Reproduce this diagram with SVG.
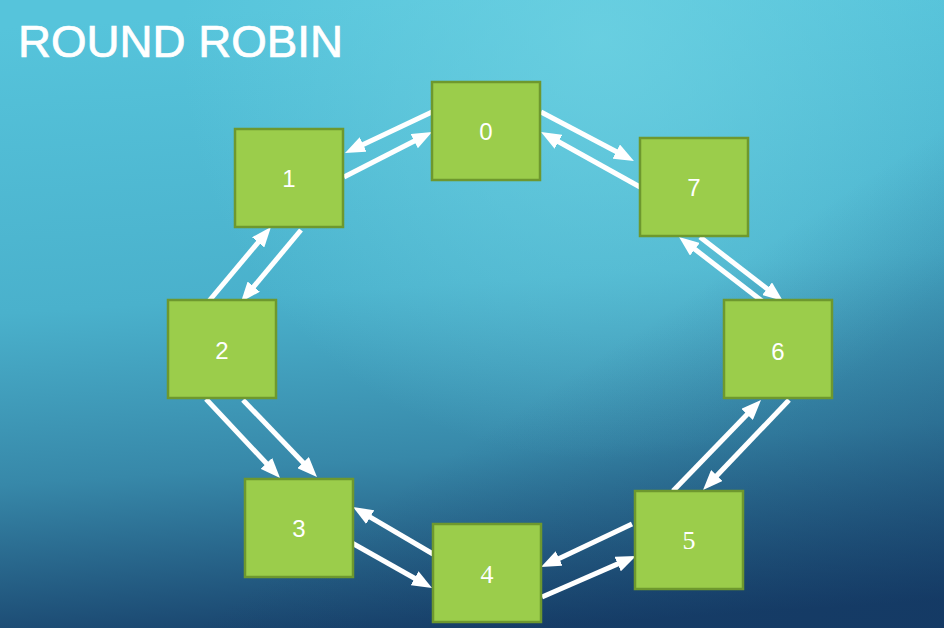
<svg xmlns="http://www.w3.org/2000/svg" width="944" height="628" viewBox="0 0 944 628">
  <defs>
    <linearGradient id="bg" x1="0.45" y1="0" x2="0.55" y2="1">
      <stop offset="0" stop-color="#56C4DB"/>
      <stop offset="0.45" stop-color="#4AB1CC"/>
      <stop offset="0.72" stop-color="#3788A9"/>
      <stop offset="1" stop-color="#173F69"/>
    </linearGradient>
    <radialGradient id="glow" cx="600" cy="40" r="420" gradientUnits="userSpaceOnUse">
      <stop offset="0" stop-color="#6FD3E3" stop-opacity="0.75"/>
      <stop offset="1" stop-color="#6FD3E3" stop-opacity="0"/>
    </radialGradient>
    <linearGradient id="corner" x1="0" y1="0" x2="1" y2="1">
      <stop offset="0.6" stop-color="#123560" stop-opacity="0"/>
      <stop offset="1" stop-color="#123560" stop-opacity="0.5"/>
    </linearGradient>
    <marker id="ah" markerUnits="userSpaceOnUse" markerWidth="20" markerHeight="16" refX="4" refY="8" orient="auto">
      <path d="M0,0 L20,8 L0,16 z" fill="#FFFFFF"/>
    </marker>
  </defs>
  <style>
    .box { fill: #9BCD4B; stroke: #6E982E; stroke-width: 2.5; }
    .lbl { fill: #FFFFFF; font-family: "Liberation Sans", Arial, sans-serif; font-size: 24px; text-anchor: middle; }
    .serif { font-family: "Liberation Serif", "Times New Roman", serif; font-size: 26px; }
    .arr { stroke: #FFFFFF; stroke-width: 5; fill: none; marker-end: url(#ah); }
    .title { fill: #FFFFFF; stroke: #FFFFFF; stroke-width: 0.7; font-family: "Liberation Sans", Arial, sans-serif; font-size: 44px; }
  </style>
  <rect x="0" y="0" width="944" height="628" fill="url(#bg)"/>
  <rect x="0" y="0" width="944" height="628" fill="url(#glow)"/>
  <rect x="0" y="0" width="944" height="628" fill="url(#corner)"/>

  <text class="title" x="18" y="57" textLength="325" lengthAdjust="spacingAndGlyphs">ROUND ROBIN</text>

  <g id="connectors">
    <line class="arr" x1="432" y1="112" x2="359.5" y2="146.2"/>
    <line class="arr" x1="344" y1="177" x2="417.8" y2="139.3"/>
    <line class="arr" x1="541" y1="112" x2="619.8" y2="153.5"/>
    <line class="arr" x1="640" y1="187" x2="555" y2="139.8"/>
    <line class="arr" x1="301" y1="230" x2="251.2" y2="289.7"/>
    <line class="arr" x1="209" y1="301" x2="260.7" y2="239.3"/>
    <line class="arr" x1="206" y1="399" x2="269.1" y2="466.3"/>
    <line class="arr" x1="243" y1="400" x2="305.9" y2="465.5"/>
    <line class="arr" x1="433" y1="554" x2="366.8" y2="515.1"/>
    <line class="arr" x1="352" y1="543" x2="418.1" y2="580.2"/>
    <line class="arr" x1="632" y1="524" x2="555.5" y2="560.2"/>
    <line class="arr" x1="542" y1="597" x2="621.3" y2="562.4"/>
    <line class="arr" x1="762" y1="301" x2="691.7" y2="246.8"/>
    <line class="arr" x1="700" y1="237" x2="770.3" y2="291.2"/>
    <line class="arr" x1="673" y1="491" x2="749.9" y2="411.5"/>
    <line class="arr" x1="789" y1="400" x2="714.1" y2="478.4"/>
  </g>

  <g id="node0"><rect class="box" x="432" y="82" width="108" height="98"/><text class="lbl" x="486" y="140">0</text></g>
  <g id="node1"><rect class="box" x="235" y="129" width="108" height="98"/><text class="lbl" x="289" y="187">1</text></g>
  <g id="node7"><rect class="box" x="640" y="138" width="108" height="98"/><text class="lbl" x="694" y="196">7</text></g>
  <g id="node2"><rect class="box" x="168" y="300" width="108" height="98"/><text class="lbl" x="222" y="359">2</text></g>
  <g id="node6"><rect class="box" x="724" y="300" width="108" height="98"/><text class="lbl" x="778" y="360">6</text></g>
  <g id="node3"><rect class="box" x="245" y="479" width="108" height="98"/><text class="lbl" x="299" y="537">3</text></g>
  <g id="node4"><rect class="box" x="433" y="524" width="108" height="98"/><text class="lbl serif" x="487" y="583">4</text></g>
  <g id="node5"><rect class="box" x="635" y="491" width="108" height="98"/><text class="lbl serif" x="689" y="549">5</text></g>
</svg>
